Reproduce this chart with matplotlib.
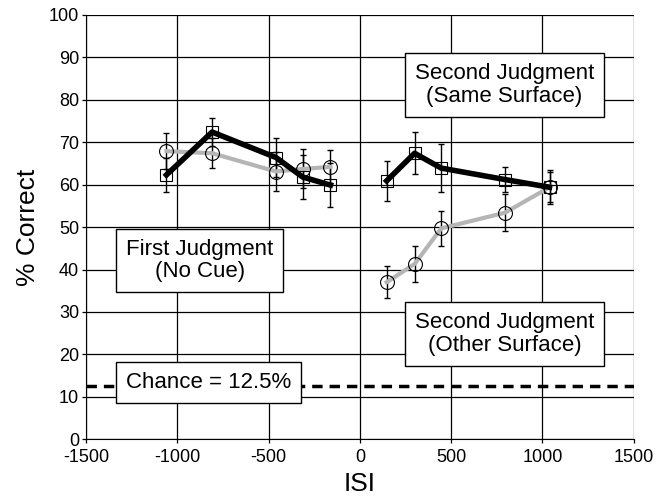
import matplotlib
matplotlib.use('Agg')
import matplotlib.pyplot as plt

plt.rcParams['font.family'] = ['Liberation Sans', 'DejaVu Sans']
plt.rcParams['axes.unicode_minus'] = False

# First judgment (no cue) and second judgment, same / other surface
isi_left = [-1059, -809, -459, -313, -161]
same_left = [62.3, 72.4, 66.4, 61.8, 59.9]
same_left_err = [4.0, 3.4, 4.6, 5.2, 5.2]
other_left = [67.9, 67.4, 63.1, 63.7, 64.2]
other_left_err = [4.3, 3.5, 4.7, 4.6, 3.9]

isi_right = [147, 300, 446, 796, 1039]
same_right = [60.9, 67.4, 63.9, 61.2, 59.4]
same_right_err = [4.7, 5.0, 5.7, 3.0, 4.0]
other_right = [37.0, 41.3, 49.7, 53.4, 59.4]
other_right_err = [3.8, 4.3, 4.1, 4.4, 3.5]

chance = 12.5

xticks = [-1500, -1000, -500, 0, 500, 1000, 1500]
yticks = list(range(0, 101, 10))

fig = plt.figure(figsize=(6.56, 4.98), dpi=100)
ax = fig.add_axes([0.131, 0.118, 0.835, 0.852])

ax.set_xlim(-1500, 1500)
ax.set_ylim(0, 100)
ax.set_xticks(xticks)
ax.set_yticks(yticks)
ax.grid(True, color='black', linewidth=0.9)
ax.set_axisbelow(True)
for s in ['top', 'right']:
    ax.spines[s].set_visible(False)
ax.tick_params(labelsize=13, length=3, width=0.9, pad=2)
ax.tick_params(axis='x', pad=4)
ax.set_xlabel('ISI', fontsize=19, labelpad=4)
ax.set_ylabel('% Correct', fontsize=19, labelpad=6)

ax.axhline(chance, color='black', linestyle=(0, (3, 2)), linewidth=2.5, zorder=2)

for xs, ys, es in [(isi_left, other_left, other_left_err),
                   (isi_right, other_right, other_right_err)]:
    ax.errorbar(xs, ys, yerr=es, fmt='none', ecolor='black', elinewidth=1,
                capsize=2.5, capthick=1, zorder=3)
    ax.plot(xs, ys, color='#b5b5b5', linewidth=3, marker='o', markersize=10,
            markerfacecolor='none', markeredgecolor='black', markeredgewidth=0.8,
            zorder=4)

for xs, ys, es in [(isi_left, same_left, same_left_err),
                   (isi_right, same_right, same_right_err)]:
    ax.errorbar(xs, ys, yerr=es, fmt='none', ecolor='black', elinewidth=1,
                capsize=2.5, capthick=1, zorder=3)
    ax.plot(xs, ys, color='black', linewidth=4, marker='s', markersize=9,
            markerfacecolor='none', markeredgecolor='black', markeredgewidth=0.8,
            zorder=5)

box = dict(boxstyle='square,pad=0.45', facecolor='white', edgecolor='black', linewidth=1)
ax.text(793, 83.5, 'Second Judgment\n(Same Surface)', ha='center', va='center',
        fontsize=16, bbox=box, linespacing=1.1, zorder=6)
ax.text(-877, 42.1, 'First Judgment\n(No Cue)', ha='center', va='center',
        fontsize=16, bbox=box, linespacing=1.1, zorder=6)
ax.text(793, 24.8, 'Second Judgment\n(Other Surface)', ha='center', va='center',
        fontsize=16, bbox=box, linespacing=1.1, zorder=6)
ax.text(-829, 13.3, 'Chance = 12.5%', ha='center', va='center',
        fontsize=16, bbox=box, zorder=6)

fig.savefig('out.png', dpi=100)
